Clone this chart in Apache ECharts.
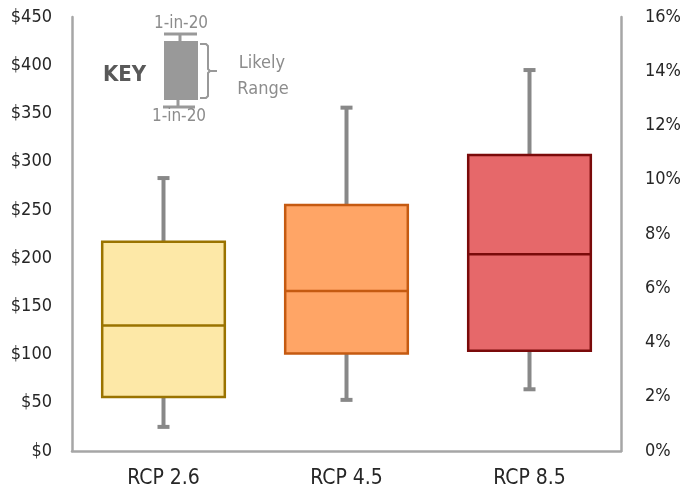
<!DOCTYPE html>
<html><head><meta charset="utf-8">
<script src="https://cdn.jsdelivr.net/npm/echarts@6/dist/echarts.min.js"></script>
<style>html,body{margin:0;padding:0;background:#fff}#c{width:684px;height:499px}</style>
</head><body><div id="c"></div>
<script>
const categories = ['RCP 2.6', 'RCP 4.5', 'RCP 8.5'];
const whiskerLow = [25, 53, 64];
const q1 = [56, 101, 104];
const median = [130, 166, 204];
const q3 = [217, 255, 307];
const whiskerHigh = [283, 356, 395];
const leftTicks = [0, 450, 50];
const rightTicks = [0, 0.16, 0.02];
const fills = ['#FDE8A7', '#FFA566', '#E6686A'];
const borders = ['#9A7300', '#C55A11', '#7A0A0A'];

const FONT = "'Liberation Sans Narrow', 'DejaVu Sans Condensed', 'Roboto', sans-serif";
const chart = echarts.init(document.getElementById('c'), null, {renderer: 'canvas'});
const data = categories.map((c, i) => [i, whiskerLow[i], q1[i], median[i], q3[i], whiskerHigh[i]]);
const axisLine = {show: true, lineStyle: {color: '#A6A6A6', width: 2.5}};

chart.setOption({
  animation: false,
  grid: {left: 72, right: 56, top: 17, bottom: 48},
  xAxis: {
    type: 'category', data: categories,
    axisLine: axisLine, axisTick: {show: false},
    axisLabel: {fontFamily: FONT, fontSize: 21, color: '#262626', margin: 17}
  },
  yAxis: [{
    type: 'value', min: leftTicks[0], max: leftTicks[1], interval: leftTicks[2],
    axisLine: axisLine, axisTick: {show: false}, splitLine: {show: false},
    axisLabel: {fontFamily: FONT, fontSize: 18, color: '#262626', margin: 20, formatter: v => '$' + v}
  }, {
    type: 'value', min: rightTicks[0], max: rightTicks[1], interval: rightTicks[2], position: 'right',
    axisLine: axisLine, axisTick: {show: false}, splitLine: {show: false},
    axisLabel: {fontFamily: FONT, fontSize: 18, color: '#262626', margin: 24, formatter: v => Math.round(v * 100) + '%'}
  }],
  series: [{
    type: 'custom',
    data: data,
    encode: {x: 0, y: [1, 2, 3, 4, 5]},
    renderItem: function (params, api) {
      const i = api.value(0);
      const cx = api.coord([i, 0])[0];
      const bw = api.size([1, 0])[0] * 0.67;
      const yLow = api.coord([i, api.value(1)])[1];
      const yQ1 = api.coord([i, api.value(2)])[1];
      const yMed = api.coord([i, api.value(3)])[1];
      const yQ3 = api.coord([i, api.value(4)])[1];
      const yHigh = api.coord([i, api.value(5)])[1];
      const wStyle = {stroke: '#888888', lineWidth: 4};
      const cap = 6;
      return {
        type: 'group',
        children: [
          {type: 'line', shape: {x1: cx, y1: yQ3, x2: cx, y2: yHigh}, style: wStyle},
          {type: 'line', shape: {x1: cx - cap, y1: yHigh, x2: cx + cap, y2: yHigh}, style: wStyle},
          {type: 'line', shape: {x1: cx, y1: yQ1, x2: cx, y2: yLow}, style: wStyle},
          {type: 'line', shape: {x1: cx - cap, y1: yLow, x2: cx + cap, y2: yLow}, style: wStyle},
          {type: 'rect', shape: {x: cx - bw / 2, y: yQ3, width: bw, height: yQ1 - yQ3},
            style: {fill: fills[i], stroke: borders[i], lineWidth: 2.5}},
          {type: 'line', shape: {x1: cx - bw / 2, y1: yMed, x2: cx + bw / 2, y2: yMed},
            style: {stroke: borders[i], lineWidth: 2.5}}
        ]
      };
    }
  }],
  graphic: [
    {type: 'text', x: 103, y: 75, style: {text: 'KEY', fontFamily: FONT, fontSize: 22, fontWeight: 'bold', fill: '#595959', verticalAlign: 'middle'}},
    {type: 'rect', shape: {x: 164, y: 41, width: 34, height: 59}, style: {fill: '#999999'}},
    {type: 'line', shape: {x1: 180, y1: 34, x2: 180, y2: 41}, style: {stroke: '#999999', lineWidth: 3}},
    {type: 'line', shape: {x1: 164, y1: 34, x2: 197, y2: 34}, style: {stroke: '#999999', lineWidth: 3}},
    {type: 'line', shape: {x1: 178, y1: 100, x2: 178, y2: 107}, style: {stroke: '#999999', lineWidth: 3}},
    {type: 'line', shape: {x1: 163, y1: 107, x2: 195, y2: 107}, style: {stroke: '#999999', lineWidth: 3}},
    {type: 'text', x: 181, y: 24, style: {text: '1-in-20', fontFamily: FONT, fontSize: 17, fill: '#8C8C8C', align: 'center', verticalAlign: 'middle'}},
    {type: 'text', x: 179, y: 117, style: {text: '1-in-20', fontFamily: FONT, fontSize: 17, fill: '#8C8C8C', align: 'center', verticalAlign: 'middle'}},
    {type: 'polyline', shape: {points: [[200, 44], [206, 44], [208, 46], [208, 69], [210, 71], [217, 71], [210, 71], [208, 73], [208, 96], [206, 98], [200, 98]]},
      style: {stroke: '#999999', lineWidth: 2, fill: null}},
    {type: 'text', x: 262, y: 63, style: {text: 'Likely', fontFamily: FONT, fontSize: 18, fill: '#8C8C8C', align: 'center', verticalAlign: 'middle'}},
    {type: 'text', x: 263, y: 89, style: {text: 'Range', fontFamily: FONT, fontSize: 18, fill: '#8C8C8C', align: 'center', verticalAlign: 'middle'}}
  ]
});
</script></body></html>
